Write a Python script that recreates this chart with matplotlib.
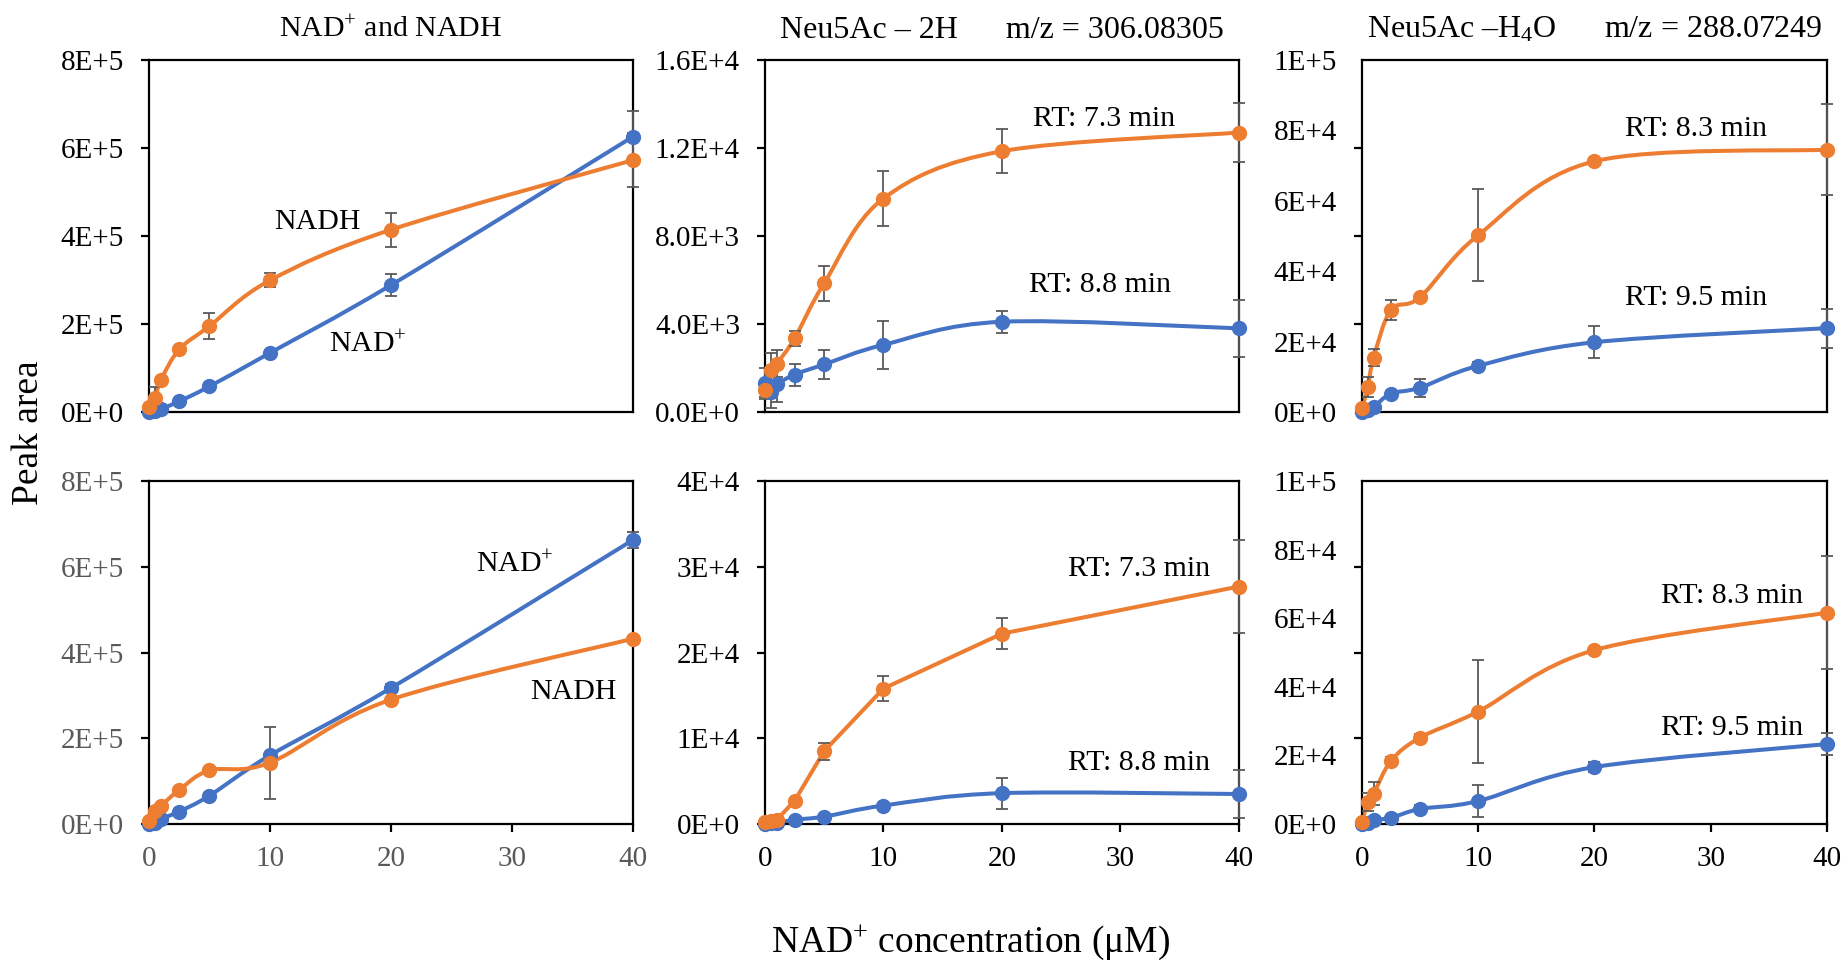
import matplotlib
matplotlib.use("Agg")
import matplotlib.pyplot as plt
import numpy as np
from matplotlib.path import Path
from matplotlib.patches import PathPatch
from matplotlib.ticker import FixedLocator, NullFormatter

plt.rcParams["font.family"] = ["Liberation Serif", "DejaVu Serif"]
plt.rcParams["mathtext.fontset"] = "custom"
plt.rcParams["mathtext.rm"] = "Liberation Serif"
plt.rcParams["mathtext.it"] = "Liberation Serif:italic"

BLUE = "#4472C4"
ORANGE = "#ED7D31"
ERR = "#595959"

# NAD+ concentration (uM)
conc = [0, 0.5, 1, 2.5, 5, 10, 20, 40]

# top row
nad_top = [0.0, 0.03e5, 0.07e5, 0.24e5, 0.58e5, 1.34e5, 2.88e5, 6.25e5]
nad_top_err = [0, 0, 0, 0, 0, 0.05e5, 0.25e5, 0.58e5]
nadh_top = [0.11e5, 0.32e5, 0.73e5, 1.42e5, 1.95e5, 2.99e5, 4.14e5, 5.72e5]
nadh_top_err = [0.05e5, 0.25e5, 0.05e5, 0.05e5, 0.29e5, 0.16e5, 0.39e5, 0.61e5]

rt88_top = [1.3e3, 0.9e3, 1.25e3, 1.7e3, 2.16e3, 3.05e3, 4.1e3, 3.8e3]
rt88_top_err = [0.7e3, 0.7e3, 0.8e3, 0.5e3, 0.66e3, 1.1e3, 0.5e3, 1.3e3]
rt73_top = [1.0e3, 1.9e3, 2.2e3, 3.34e3, 5.85e3, 9.7e3, 11.85e3, 12.7e3]
rt73_top_err = [0.3e3, 0.8e3, 0.6e3, 0.35e3, 0.8e3, 1.25e3, 1.0e3, 1.35e3]

rt95_top = [0.0, 0.5e3, 1.4e3, 5.2e3, 6.9e3, 13.1e3, 19.8e3, 23.8e3]
rt95_top_err = [0, 0.5e3, 0.8e3, 0.8e3, 2.6e3, 1.0e3, 4.5e3, 5.5e3]
rt83_top = [1.1e3, 7.1e3, 15.4e3, 29e3, 32.6e3, 50.2e3, 71.2e3, 74.5e3]
rt83_top_err = [0.5e3, 2.9e3, 2.4e3, 2.8e3, 0.8e3, 13e3, 0.8e3, 13e3]

# bottom row
nad_bot = [0.0, 0.02e5, 0.12e5, 0.29e5, 0.66e5, 1.6e5, 3.17e5, 6.62e5]
nad_bot_err = [0, 0, 0, 0, 0, 0.05e5, 0.1e5, 0.18e5]
nadh_bot = [0.08e5, 0.31e5, 0.43e5, 0.79e5, 1.25e5, 1.43e5, 2.9e5, 4.32e5]
nadh_bot_err = [0, 0, 0, 0, 0, 0.84e5, 0.05e5, 0.05e5]

rt88_bot = [0.0, 0.1e3, 0.1e3, 0.5e3, 0.86e3, 2.15e3, 3.6e3, 3.5e3]
rt88_bot_err = [0.1e3, 0.1e3, 0.1e3, 0.1e3, 0.2e3, 0.3e3, 1.8e3, 2.8e3]
rt73_bot = [0.2e3, 0.4e3, 0.5e3, 2.7e3, 8.5e3, 15.8e3, 22.2e3, 27.7e3]
rt73_bot_err = [0.1e3, 0.2e3, 0.2e3, 0.3e3, 1.0e3, 1.5e3, 1.8e3, 5.4e3]

rt95_bot = [0.0, 0.2e3, 1.2e3, 1.8e3, 4.4e3, 6.7e3, 16.6e3, 23.3e3]
rt95_bot_err = [0, 0, 0.5e3, 0.5e3, 1.0e3, 4.7e3, 1.5e3, 3.2e3]
rt83_bot = [0.5e3, 6.4e3, 8.8e3, 18.4e3, 25.2e3, 32.8e3, 50.7e3, 61.6e3]
rt83_bot_err = [0.5e3, 2.5e3, 3.4e3, 1.0e3, 1.0e3, 15e3, 1.0e3, 16.5e3]

left_ticks = [0, 2e5, 4e5, 6e5, 8e5]
left_labels = ["0E+0", "2E+5", "4E+5", "6E+5", "8E+5"]
mid_top_ticks = [0, 4e3, 8e3, 12e3, 16e3]
mid_top_labels = ["0.0E+0", "4.0E+3", "8.0E+3", "1.2E+4", "1.6E+4"]
mid_bot_ticks = [0, 1e4, 2e4, 3e4, 4e4]
mid_bot_labels = ["0E+0", "1E+4", "2E+4", "3E+4", "4E+4"]
right_label_pos = [0, 2e4, 4e4, 6e4, 8e4, 1e5]
right_labels = ["0E+0", "2E+4", "4E+4", "6E+4", "8E+4", "1E+5"]
right_tick_marks = [0, 2.5e4, 5e4, 7.5e4, 1e5]
x_ticks = [0, 10, 20, 30, 40]

ANN = 21.5


def smooth_path(x, y):
    # Excel-style smoothed line: cubic Bezier through the points
    pts = np.column_stack([x, y]).astype(float)
    n = len(pts)
    verts = [pts[0]]
    codes = [Path.MOVETO]
    for i in range(n - 1):
        p0 = pts[max(i - 1, 0)]
        p1, p2 = pts[i], pts[i + 1]
        p3 = pts[min(i + 2, n - 1)]
        verts += [p1 + (p2 - p0) / 6, p2 - (p3 - p1) / 6, p2]
        codes += [Path.CURVE4] * 3
    return Path(verts, codes)


def draw_series(ax, y, err, color, smooth=True):
    x = np.array(conc, dtype=float)
    y = np.array(y, dtype=float)
    err = np.array(err, dtype=float)
    if smooth:
        ax.add_patch(PathPatch(smooth_path(x, y), facecolor="none", edgecolor=color,
                               lw=2.9, clip_on=False, zorder=2, capstyle="round"))
    else:
        ax.plot(x, y, color=color, lw=2.9, clip_on=False, zorder=2)
    idx = err > 0
    eb = ax.errorbar(x[idx], y[idx], yerr=err[idx], fmt="none", ecolor=ERR,
                     elinewidth=1.3, capsize=4.5, capthick=1.3, zorder=3)
    for art in eb.get_children():
        art.set_clip_on(False)
    ax.plot(x, y, "o", ms=10, color=color, clip_on=False, zorder=4)


def style_axes(ax, bottom_row, label_color="black"):
    ax.set_xlim(0, 40)
    for sp in ax.spines.values():
        sp.set_linewidth(1.6)
        sp.set_color("black")
    ax.tick_params(axis="y", which="both", direction="out", length=6, width=1.6,
                   labelsize=21, pad=12, labelcolor=label_color)
    if bottom_row:
        ax.set_xticks(x_ticks)
        ax.tick_params(axis="x", direction="out", length=6, width=1.6,
                       labelsize=21, pad=10, labelcolor=label_color)
    else:
        ax.set_xticks([])


def right_axis_labels(ax):
    # labels and tick marks do not line up on these panels
    ax.yaxis.set_major_locator(FixedLocator(right_label_pos))
    ax.set_yticklabels(right_labels)
    ax.yaxis.set_minor_locator(FixedLocator(right_tick_marks))
    ax.yaxis.set_minor_formatter(NullFormatter())
    ax.tick_params(axis="y", which="major", length=0, pad=18)


def note(ax, x, y, s):
    ax.text(x, y, s, transform=ax.transAxes, fontsize=ANN, ha="center", va="center")


fig = plt.figure(figsize=(18.41, 9.65), dpi=100)

cols = [(0.0809, 0.2627), (0.4155, 0.2575), (0.7398, 0.2525)]
rows = [(0.5731, 0.3648), (0.1461, 0.3554)]

axes = [[fig.add_axes([c[0], r[0], c[1], r[1]]) for c in cols] for r in rows]

# top left
ax = axes[0][0]
draw_series(ax, nad_top, nad_top_err, BLUE)
draw_series(ax, nadh_top, nadh_top_err, ORANGE)
ax.set_ylim(0, 8e5)
ax.set_yticks(left_ticks, left_labels)
style_axes(ax, False)
note(ax, 0.349, 0.54, "NADH")
note(ax, 0.452, 0.19, "NAD$^{+}$")
ax.text(0.5, 1.085, "NAD$^{+}$ and NADH", transform=ax.transAxes, fontsize=21.5,
        ha="center", va="center")

# top middle
ax = axes[0][1]
draw_series(ax, rt88_top, rt88_top_err, BLUE)
draw_series(ax, rt73_top, rt73_top_err, ORANGE)
ax.set_ylim(0, 1.6e4)
ax.set_yticks(mid_top_ticks, mid_top_labels)
style_axes(ax, False)
note(ax, 0.715, 0.832, "RT: 7.3 min")
note(ax, 0.707, 0.36, "RT: 8.8 min")
ax.text(0.5, 1.085, "Neu5Ac \u2013 2H      m/z = 306.08305", transform=ax.transAxes,
        fontsize=23, ha="center", va="center")

# top right
ax = axes[0][2]
draw_series(ax, rt95_top, rt95_top_err, BLUE)
draw_series(ax, rt83_top, rt83_top_err, ORANGE)
ax.set_ylim(0, 1e5)
style_axes(ax, False)
right_axis_labels(ax)
note(ax, 0.718, 0.804, "RT: 8.3 min")
note(ax, 0.718, 0.324, "RT: 9.5 min")
ax.text(0.5, 1.085, "Neu5Ac \u2013H$_{4}$O      m/z = 288.07249", transform=ax.transAxes,
        fontsize=23, ha="center", va="center")

# bottom left
ax = axes[1][0]
draw_series(ax, nad_bot, nad_bot_err, BLUE)
draw_series(ax, nadh_bot, nadh_bot_err, ORANGE)
ax.set_ylim(0, 8e5)
ax.set_yticks(left_ticks, left_labels)
style_axes(ax, True, label_color="#595959")
note(ax, 0.757, 0.755, "NAD$^{+}$")
note(ax, 0.877, 0.385, "NADH")

# bottom middle
ax = axes[1][1]
draw_series(ax, rt88_bot, rt88_bot_err, BLUE)
draw_series(ax, rt73_bot, rt73_bot_err, ORANGE, smooth=False)
ax.set_ylim(0, 4e4)
ax.set_yticks(mid_bot_ticks, mid_bot_labels)
style_axes(ax, True)
note(ax, 0.789, 0.743, "RT: 7.3 min")
note(ax, 0.789, 0.178, "RT: 8.8 min")

# bottom right
ax = axes[1][2]
draw_series(ax, rt95_bot, rt95_bot_err, BLUE)
draw_series(ax, rt83_bot, rt83_bot_err, ORANGE)
ax.set_ylim(0, 1e5)
style_axes(ax, True)
right_axis_labels(ax)
note(ax, 0.797, 0.665, "RT: 8.3 min")
note(ax, 0.797, 0.28, "RT: 9.5 min")

fig.text(0.0158, 0.552, "Peak area", rotation=90, fontsize=27, ha="center", va="center")
fig.text(0.527, 0.023, "NAD$^{+}$ concentration (\u03bcM)", fontsize=27, ha="center", va="center")

fig.savefig("out.png", dpi=100)
plt.close(fig)
